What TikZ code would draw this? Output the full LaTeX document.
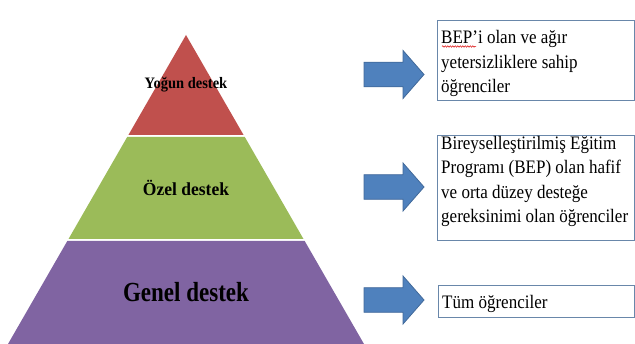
\documentclass[tikz,border=0pt]{standalone}
\usepackage{fontspec}
\setmainfont{Liberation Serif}
\usetikzlibrary{decorations.pathmorphing}
\definecolor{pyrred}{HTML}{C0504D}
\definecolor{pyrgreen}{HTML}{9BBB59}
\definecolor{pyrpurple}{HTML}{8064A2}
\definecolor{arrfill}{HTML}{4F81BD}
\definecolor{arrline}{HTML}{41699A}
\definecolor{boxline}{RGB}{105,135,170}
\newcommand\vstretch[2]{\scalebox{1}[#1]{#2}}
\newcommand\boxtext[1]{\vstretch{1.12}{\parbox{194pt}{\fontsize{17}{21.9}\selectfont\raggedright\hyphenpenalty=10000 #1}}}
\tikzset{
  layerlabel/.style={text=black, inner sep=0pt},
  arrowbody/.style={fill=arrfill, draw=arrline, line width=0.8pt, line join=miter},
  framebox/.style={draw=boxline, line width=1.3pt, fill=white, inner sep=0pt,
    minimum width=197pt, anchor=north west},
  boxlabel/.style={inner sep=0pt, anchor=north west},
  spellmark/.style={draw=red!85!black, line width=0.5pt,
    decorate, decoration={snake, amplitude=0.7pt, segment length=2.5pt}},
  rarrow/.pic={\path[arrowbody] (0,-12.3) -- (39,-12.3) -- (39,-24) -- (60,0) -- (39,24) -- (39,12.3) -- (0,12.3) -- cycle;}
}
\begin{document}
\begin{tikzpicture}[x=1pt,y=-1pt]
\useasboundingbox (0,0) rectangle (635,344);
% pyramid
\coordinate (apex) at (186,35);
\fill[pyrred] (apex) -- (243.6,135) -- (128.4,135) -- cycle;
\fill[pyrgreen] (127.2,137) -- (244.8,137) -- (303.5,239) -- (68.5,239) -- cycle;
\fill[pyrpurple] (67.3,241) -- (304.7,241) -- (364,344) -- (8,344) -- cycle;
\node[layerlabel] (yogun) at (186,85) {\vstretch{1.1}{\fontsize{14.5}{16}\selectfont\bfseries Yoğun destek}};
\node[layerlabel] (ozel) at (186,188) {\vstretch{1.05}{\fontsize{17.5}{20}\selectfont\bfseries Özel destek}};
\node[layerlabel] (genel) at (186,292) {\vstretch{1.2}{\fontsize{23}{26}\selectfont\bfseries Genel destek}};
% arrows
\pic (a1) at (364,74.5) {rarrow};
\pic (a2) at (364,187) {rarrow};
\pic (a3) at (364,300) {rarrow};
% boxes
\node[framebox, minimum height=80pt] (b1) at (437,20) {};
\node[framebox, minimum height=105pt] (b2) at (437,135) {};
\node[framebox, minimum height=32pt, minimum width=196pt] (b3) at (438,285) {};
\node[boxlabel] (t1) at (441,30.5) {\boxtext{BEP’i olan ve ağır\\yetersizliklere sahip\\öğrenciler}};
\node[boxlabel] (t2) at (441,136) {\boxtext{Bireyselleştirilmiş Eğitim\\Programı (BEP) olan hafif\\ve orta düzey desteğe\\gereksinimi olan öğrenciler}};
\node[boxlabel] (t3) at (442,295.5) {\boxtext{Tüm öğrenciler}};
% spell-check underline
\coordinate (s1) at (442,46.5);
\coordinate (s2) at (476,46.5);
\draw[spellmark] (s1) -- (s2);
\end{tikzpicture}
\end{document}
